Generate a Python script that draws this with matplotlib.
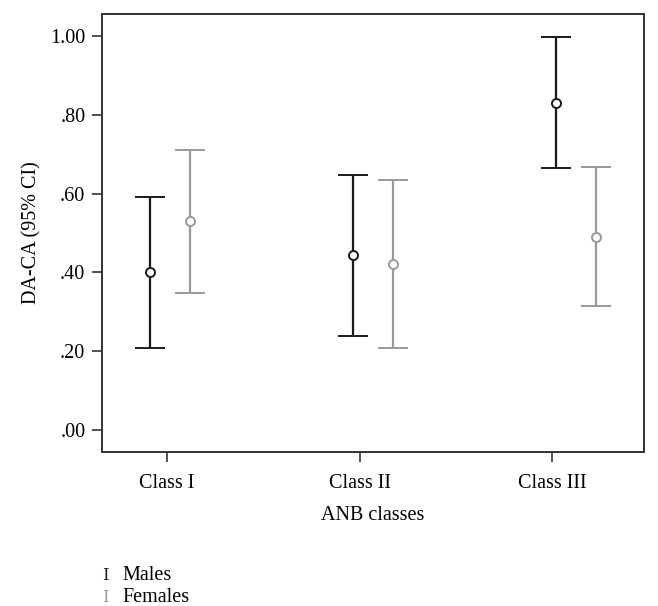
import numpy as np
import matplotlib.pyplot as plt

plt.rcParams['font.family'] = ['Liberation Serif', 'DejaVu Serif']

classes = ['Class I', 'Class II', 'Class III']
male_mean = [0.401, 0.444, 0.830]
male_low = [0.208, 0.239, 0.665]
male_high = [0.591, 0.647, 0.998]
female_mean = [0.530, 0.421, 0.490]
female_low = [0.348, 0.208, 0.315]
female_high = [0.711, 0.634, 0.668]
yticks = [0.0, 0.2, 0.4, 0.6, 0.8, 1.0]
ytick_labels = ['.00', '.20', '.40', '.60', '.80', '1.00']

fig = plt.figure(figsize=(6.58, 6.06), dpi=100)
ax = fig.add_axes([0.155, 0.254, 0.824, 0.723])

ind = np.arange(len(classes))
series = [
    ('Males', male_mean, male_low, male_high, '#1a1a1a', -0.1),
    ('Females', female_mean, female_low, female_high, '#999999', 0.1),
]
for label, mean, low, high, col, off in series:
    mean = np.array(mean)
    err = [mean - np.array(low), np.array(high) - mean]
    ax.errorbar(ind + off, mean, yerr=err, fmt='o', mfc='white', mec=col,
                ms=6.5, mew=1.4, ecolor=col, elinewidth=1.6, capsize=11,
                capthick=1.6, label=label)

# points sit on a slightly wider spacing than the category ticks (as in SPSS)
ax.set_xlim(-0.335, 2.335)
ax.set_ylim(-0.056, 1.056)
ax.set_xticks([])
ax.set_yticks(yticks)
ax.set_yticklabels(ytick_labels)
ax.tick_params(axis='y', labelsize=14.5, length=7, width=1.2,
               color='#333333', pad=5)
ax.set_ylabel('DA-CA (95% CI)', fontsize=14.5, labelpad=6)
for s in ax.spines.values():
    s.set_color('#333333')
    s.set_linewidth(1.2)

axt = ax.twiny()
axt.xaxis.set_ticks_position('bottom')
axt.xaxis.set_label_position('bottom')
axt.set_xlim(-0.337, 2.477)
axt.set_xticks(ind)
axt.set_xticklabels(classes)
axt.tick_params(axis='x', labelsize=14.5, length=7, width=1.2,
                color='#333333', pad=9)
axt.set_xlabel('ANB classes', fontsize=14.5, labelpad=9)
for s in axt.spines.values():
    s.set_color('#333333')
    s.set_linewidth(1.2)

# legend under the plot
fig.text(0.155, 1 - 576 / 606, 'I', color='#1a1a1a', fontsize=12,
         family='DejaVu Serif', va='center')
fig.text(0.186, 1 - 576 / 606, 'Males', fontsize=14.5, va='center')
fig.text(0.155, 1 - 597 / 606, 'I', color='#999999', fontsize=12,
         family='DejaVu Serif', va='center')
fig.text(0.186, 1 - 597 / 606, 'Females', fontsize=14.5, va='center')

plt.savefig('out.png', dpi=100)
